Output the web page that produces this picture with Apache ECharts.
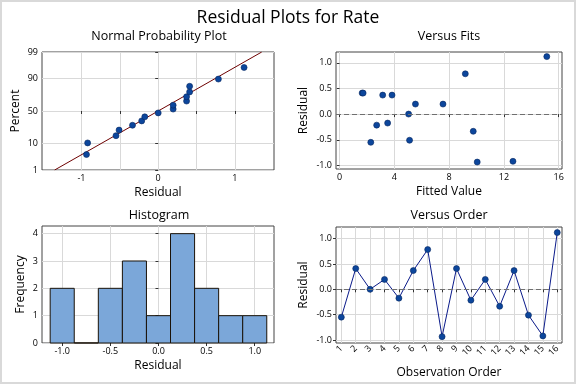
<!DOCTYPE html>
<html><head><meta charset="utf-8">
<script src="https://cdn.jsdelivr.net/npm/echarts@6/dist/echarts.min.js"></script>
<style>html,body{margin:0;padding:0;background:#fff}#c{width:576px;height:384px}</style>
</head><body><div id="c"></div>
<script>
// ---- data ----
const observationOrder = [1,2,3,4,5,6,7,8,9,10,11,12,13,14,15,16];
const residuals = [-0.55, 0.41, 0.00, 0.195, -0.175, 0.37, 0.785, -0.935, 0.41, -0.215, 0.195, -0.335, 0.37, -0.51, -0.92, 1.12];
const fittedValues = [2.28, 1.65, 5.04, 5.54, 3.51, 3.15, 9.18, 10.05, 1.72, 2.71, 7.55, 9.76, 3.83, 5.11, 12.66, 15.13];
const normalPercent = [4.3, 10.4, 16.5, 22.6, 28.7, 34.8, 40.9, 47.0, 53.0, 59.1, 65.2, 71.3, 77.4, 83.5, 89.6, 95.7];
const fitLineResidual = [-1.35, 1.35];
const fitLinePercent = [1, 99];
const percentTicks = [1, 10, 50, 90, 99];
const npResidualTicks = [-1, -0.5, 0, 0.5, 1];
const npResidualLabels = [-1, 0, 1];
const histBinCenters = [-1.0, -0.75, -0.5, -0.25, 0, 0.25, 0.5, 0.75, 1.0];
const histCounts = [2, 0, 2, 3, 1, 4, 2, 1, 1];
const histBinWidth = 0.25;
const histXTicks = [-1.0, -0.5, 0.0, 0.5, 1.0];
const histYTicks = [0, 1, 2, 3, 4];
const fitsXTicks = [0, 4, 8, 12, 16];
const residualTicks = [-1.0, -0.5, 0.0, 0.5, 1.0];

// inverse standard normal CDF (probability-scale transform)
function probit(p) {
  const a = [-3.969683028665376e+01, 2.209460984245205e+02, -2.759285104469687e+02, 1.383577518672690e+02, -3.066479806614716e+01, 2.506628277459239e+00];
  const b = [-5.447609879822406e+01, 1.615858368580409e+02, -1.556989798598866e+02, 6.680131188771972e+01, -1.328068155288572e+01];
  const c = [-7.784894002430293e-03, -3.223964580411365e-01, -2.400758277161838e+00, -2.549732539343734e+00, 4.374664141464968e+00, 2.938163982698783e+00];
  const d = [7.784695709041462e-03, 3.224671290700398e-01, 2.445134137142996e+00, 3.754408661907416e+00];
  const pl = 0.02425, ph = 1 - pl;
  let q, r;
  if (p < pl) { q = Math.sqrt(-2 * Math.log(p)); return (((((c[0]*q+c[1])*q+c[2])*q+c[3])*q+c[4])*q+c[5]) / ((((d[0]*q+d[1])*q+d[2])*q+d[3])*q+1); }
  if (p <= ph) { q = p - 0.5; r = q*q; return (((((a[0]*r+a[1])*r+a[2])*r+a[3])*r+a[4])*r+a[5])*q / (((((b[0]*r+b[1])*r+b[2])*r+b[3])*r+b[4])*r+1); }
  q = Math.sqrt(-2 * Math.log(1 - p)); return -(((((c[0]*q+c[1])*q+c[2])*q+c[3])*q+c[4])*q+c[5]) / ((((d[0]*q+d[1])*q+d[2])*q+d[3])*q+1);
}
const pz = v => probit(v / 100);

const FONT = 'Open Sans';
const GRIDC = '#d9d9d9';
const PT = '#0c469c';
const PTB = '#06275f';

function axis(o) {
  return {
    type: 'value',
    gridIndex: o.grid, min: o.min, max: o.max,
    axisLine: { show: false },
    axisTick: { show: true, length: 3, customValues: o.ticks, lineStyle: { color: '#333', width: 1 } },
    axisLabel: { show: true, customValues: o.labels || o.ticks, fontSize: 9, fontFamily: FONT, color: '#000', margin: 4, formatter: o.fmt, rotate: o.rotate || 0 },
    splitLine: { show: true, lineStyle: { color: GRIDC, width: 1 } },
    name: o.name, nameLocation: 'middle', nameGap: o.gap,
    nameTextStyle: { fontSize: 12, fontFamily: FONT, color: '#000' }
  };
}
const f1 = v => (Math.abs(v) < 1e-9 ? 0 : v).toFixed(1);

const sortedRes = residuals.slice().sort((a, b) => a - b);
const ptStyle = { color: PT, borderColor: PTB, borderWidth: 0.6, opacity: 1 };

const option = {
  backgroundColor: '#fff',
  animation: false,
  textStyle: { fontFamily: FONT },
  grid: [
    { left: 42, top: 52, width: 232, height: 118, show: true, borderColor: '#444', borderWidth: 1, backgroundColor: 'transparent' },
    { left: 336, top: 52, width: 226, height: 117, show: true, borderColor: '#444', borderWidth: 1, backgroundColor: 'transparent' },
    { left: 42, top: 226, width: 232, height: 117, show: true, borderColor: '#444', borderWidth: 1, backgroundColor: 'transparent' },
    { left: 336, top: 227, width: 226, height: 116, show: true, borderColor: '#444', borderWidth: 1, backgroundColor: 'transparent' }
  ],
  xAxis: [
    axis({ grid: 0, min: -1.515, max: 1.51, ticks: npResidualTicks, labels: npResidualLabels, fmt: v => String(Math.round(v)), name: 'Residual', gap: 17 }),
    axis({ grid: 1, min: -0.26, max: 16.24, ticks: fitsXTicks, fmt: v => String(Math.round(v)), name: 'Fitted Value', gap: 17 }),
    axis({ grid: 2, min: -1.21, max: 1.2, ticks: histXTicks, fmt: f1, name: 'Residual', gap: 17 }),
    axis({ grid: 3, min: 0.63, max: 16.33, ticks: observationOrder, fmt: v => String(Math.round(v)), rotate: 45, name: 'Observation Order', gap: 24 })
  ],
  yAxis: [
    axis({ grid: 0, min: pz(1), max: pz(99), ticks: percentTicks.map(pz), fmt: v => { let best = percentTicks[0]; percentTicks.forEach(p => { if (Math.abs(pz(p) - v) < Math.abs(pz(best) - v)) best = p; }); return String(best); }, name: 'Percent', gap: 20 }),
    axis({ grid: 1, min: -1.07, max: 1.21, ticks: residualTicks, fmt: f1, name: 'Residual', gap: 26 }),
    axis({ grid: 2, min: 0, max: 4.28, ticks: histYTicks, fmt: v => String(Math.round(v)), name: 'Frequency', gap: 15 }),
    axis({ grid: 3, min: -1.06, max: 1.23, ticks: residualTicks, fmt: f1, name: 'Residual', gap: 26 })
  ],
  series: [
    { type: 'line', xAxisIndex: 0, yAxisIndex: 0, symbol: 'none', silent: true,
      data: fitLineResidual.map((r, i) => [r, pz(fitLinePercent[i])]),
      lineStyle: { color: '#6e0000', width: 1 }, z: 3 },
    { type: 'scatter', xAxisIndex: 0, yAxisIndex: 0, symbolSize: 6,
      data: sortedRes.map((r, i) => [r, pz(normalPercent[i])]),
      itemStyle: ptStyle, z: 4 },
    { type: 'scatter', xAxisIndex: 1, yAxisIndex: 1, symbolSize: 6,
      data: fittedValues.map((f, i) => [f, residuals[i]]),
      itemStyle: ptStyle, z: 4,
      markLine: { silent: true, symbol: 'none', label: { show: false }, animation: false,
        lineStyle: { color: '#6f6f6f', type: [5, 3], width: 1 }, data: [{ yAxis: 0 }] } },
    { type: 'custom', xAxisIndex: 2, yAxisIndex: 2,
      data: histBinCenters.map((c, i) => [c, histCounts[i]]),
      renderItem: (params, api) => {
        const c = api.value(0), n = api.value(1);
        const p0 = api.coord([c - histBinWidth / 2, n]);
        const p1 = api.coord([c + histBinWidth / 2, 0]);
        return { type: 'rect', shape: { x: p0[0], y: p0[1], width: p1[0] - p0[0], height: p1[1] - p0[1] },
          style: { fill: '#7ba7d9', stroke: '#1a1208', lineWidth: 1 } };
      }, z: 3 },
    { type: 'line', xAxisIndex: 3, yAxisIndex: 3, symbol: 'circle', symbolSize: 6,
      data: observationOrder.map((o, i) => [o, residuals[i]]),
      lineStyle: { color: '#0a1a8a', width: 1 },
      itemStyle: ptStyle, z: 4,
      markLine: { silent: true, symbol: 'none', label: { show: false }, animation: false,
        lineStyle: { color: '#6f6f6f', type: [5, 3], width: 1 }, data: [{ yAxis: 0 }] } }
  ],
  graphic: [
    { type: 'rect', shape: { x: 1, y: 1, width: 574, height: 382 }, style: { fill: 'none', stroke: '#d9d9d9', lineWidth: 2 }, silent: true },
    { type: 'text', x: 288, y: 18, style: { text: 'Residual Plots for Rate', font: '17.5px "Open Sans"', fill: '#000', align: 'center', verticalAlign: 'middle', textAlign: 'center', textVerticalAlign: 'middle' } },
    { type: 'text', x: 159, y: 36, style: { text: 'Normal Probability Plot', font: '12.5px "Open Sans"', fill: '#000', align: 'center', verticalAlign: 'middle', textAlign: 'center', textVerticalAlign: 'middle' } },
    { type: 'text', x: 449, y: 36, style: { text: 'Versus Fits', font: '12.5px "Open Sans"', fill: '#000', align: 'center', verticalAlign: 'middle', textAlign: 'center', textVerticalAlign: 'middle' } },
    { type: 'text', x: 159, y: 215, style: { text: 'Histogram', font: '12.5px "Open Sans"', fill: '#000', align: 'center', verticalAlign: 'middle', textAlign: 'center', textVerticalAlign: 'middle' } },
    { type: 'text', x: 449, y: 215, style: { text: 'Versus Order', font: '12.5px "Open Sans"', fill: '#000', align: 'center', verticalAlign: 'middle', textAlign: 'center', textVerticalAlign: 'middle' } }
  ]
};
echarts.init(document.getElementById('c')).setOption(option);
</script></body></html>
